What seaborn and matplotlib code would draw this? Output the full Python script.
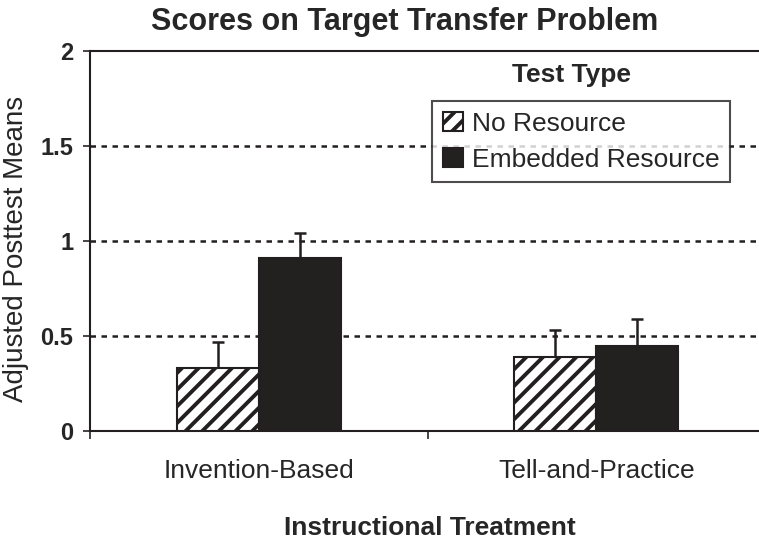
import numpy as np
import pandas as pd
import seaborn as sns
import matplotlib.pyplot as plt
from matplotlib.ticker import FixedLocator

# values
treatments = ["Invention-Based", "Tell-and-Practice"]
test_types = ["No Resource", "Embedded Resource"]
no_resource = [0.33, 0.39]
embedded = [0.91, 0.45]
no_resource_err = [0.14, 0.14]
embedded_err = [0.13, 0.14]

df = pd.DataFrame({
    "treatment": treatments * 2,
    "test": [test_types[0]] * 2 + [test_types[1]] * 2,
    "mean": no_resource + embedded,
})
errs = [no_resource_err, embedded_err]

sns.set_style("white")
plt.rcParams["font.family"] = ["Liberation Sans", "DejaVu Sans"]
plt.rcParams["hatch.linewidth"] = 2.8
plt.rcParams["hatch.color"] = "#231f20"

fig = plt.figure(figsize=(7.59, 5.47), dpi=100)
ax = fig.add_axes([90 / 759, 1 - 431 / 547, 675 / 759, 380 / 547])

sns.barplot(data=df, x="treatment", y="mean", hue="test", order=treatments,
            hue_order=test_types, palette=["white", "#231f20"], width=0.486,
            gap=0, edgecolor="#231f20", linewidth=1.5, errorbar=None,
            legend=False, ax=ax, zorder=3)

# hatch the no-resource bars
for p in ax.containers[0].patches:
    p.set_hatch("//")

# one-sided error bars on top of each bar
for cont, err in zip(ax.containers, errs):
    xs = [p.get_x() + p.get_width() / 2 for p in cont.patches]
    hs = [p.get_height() for p in cont.patches]
    ax.errorbar(xs, hs, yerr=[np.zeros(len(err)), err], fmt="none",
                ecolor="#231f20", elinewidth=1.8, capsize=4.5, capthick=1.8,
                zorder=2)

ax.set_ylim(0, 2)
ax.set_xlim(-0.5, 1.5)
ax.set_yticks([0, 0.5, 1, 1.5, 2])
ax.set_yticklabels(["0", "0.5", "1", "1.5", "2"], fontsize=17, fontweight="bold")
for y in [0.5, 1, 1.5]:
    ax.axhline(y, color="#231f20", linestyle=(0, (2.2, 2.2)), linewidth=1.8, zorder=1)

ax.xaxis.set_minor_locator(FixedLocator([-0.5, 0.5, 1.5]))
ax.tick_params(axis="x", which="major", length=0, pad=20, labelsize=19)
ax.tick_params(axis="x", which="minor", length=6, width=1.2, direction="out", bottom=True)
ax.tick_params(axis="y", length=5, width=1.2, direction="out", left=True, pad=7)

for side in ["left", "bottom", "top"]:
    ax.spines[side].set_visible(True)
    ax.spines[side].set_color("#231f20")
    ax.spines[side].set_linewidth(1.5)
ax.spines["right"].set_visible(False)

ax.set_xlabel("")
ax.set_ylabel("Adjusted Posttest Means", fontsize=20)
ax.yaxis.set_label_coords(-0.09, 0.479)

fig.text(430 / 759, 1 - 528 / 547, "Instructional Treatment", fontsize=19,
         fontweight="bold", ha="center", va="center")
fig.text(405 / 759, 1 - 22 / 547, "Scores on Target Transfer Problem",
         fontsize=22, fontweight="bold", ha="center", va="center")

leg = ax.legend(handles=list(ax.containers), labels=test_types, fontsize=19,
                loc="upper left", bbox_to_anchor=(0.507, 0.868), frameon=True,
                fancybox=False, handlelength=0.75, handleheight=0.75,
                handletextpad=0.35, borderpad=0.4, labelspacing=0.45,
                borderaxespad=0)
leg.get_frame().set_edgecolor("#231f20")
leg.get_frame().set_linewidth(1.5)
ax.text(0.714, 0.937, "Test Type", transform=ax.transAxes, fontsize=19,
        fontweight="bold", ha="center", va="center")

fig.savefig("out.png", dpi=100)
